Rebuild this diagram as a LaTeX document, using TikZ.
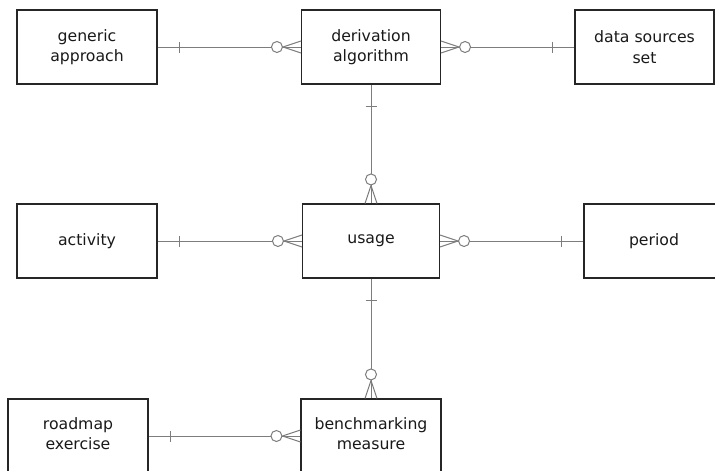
\documentclass[tikz,border=0pt]{standalone}
\usepackage{fontspec}
\setmainfont{DejaVu Sans}
\definecolor{relgray}{RGB}{125,125,125}
\tikzset{
  entity/.style={draw=black!85, line width=1.1pt, minimum width=140pt, minimum height=74pt,
    align=center, inner sep=0pt, font=\fontsize{15.7}{20.5}\selectfont, text=black!90},
  rel/.style={draw=relgray, line width=1pt},
  manyend/.pic={
    \draw[rel] (0,6) -- (18,0) -- (0,-6);
    \draw[rel,fill=white] (24,0) circle (5.5);
  },
  oneend/.pic={
    \draw[rel] (22,-5.5) -- (22,5.5);
  }
}
\begin{document}
\begin{tikzpicture}[x=1pt,y=1pt]
\useasboundingbox (0,0) rectangle (715,-471);
\node[entity] (ga) at (87,-47) {generic\\approach};
\node[entity, minimum width=139pt] (da) at (371,-47) {derivation\\algorithm};
\node[entity, minimum width=139pt] (ds) at (644.5,-47) {data sources\\set};
\node[entity] (ac) at (87,-241) {activity};
\node[entity, minimum width=137pt] (us) at (371,-241) {usage};
\node[entity] (pe) at (654,-241) {period};
\node[entity, text depth=5pt] (rm) at (78,-436) {roadmap\\exercise};
\node[entity, text depth=5pt] (bm) at (371,-436) {benchmarking\\measure};
\draw[rel] (ga) -- (da);
\draw[rel] (da) -- (ds);
\draw[rel] (da) -- (us);
\draw[rel] (ac) -- (us);
\draw[rel] (us) -- (pe);
\draw[rel] (us) -- (bm);
\draw[rel] (rm) -- (bm);
\pic at (ga.east) {oneend};
\pic[rotate=180] at (da.west) {manyend};
\pic at (da.east) {manyend};
\pic[rotate=180] at (ds.west) {oneend};
\pic[rotate=-90] at (da.south) {oneend};
\pic[rotate=90] at (us.north) {manyend};
\pic at (ac.east) {oneend};
\pic[rotate=180] at (us.west) {manyend};
\pic at (us.east) {manyend};
\pic[rotate=180] at (pe.west) {oneend};
\pic[rotate=-90] at (us.south) {oneend};
\pic[rotate=90] at (bm.north) {manyend};
\pic at (rm.east) {oneend};
\pic[rotate=180] at (bm.west) {manyend};
\end{tikzpicture}
\end{document}
